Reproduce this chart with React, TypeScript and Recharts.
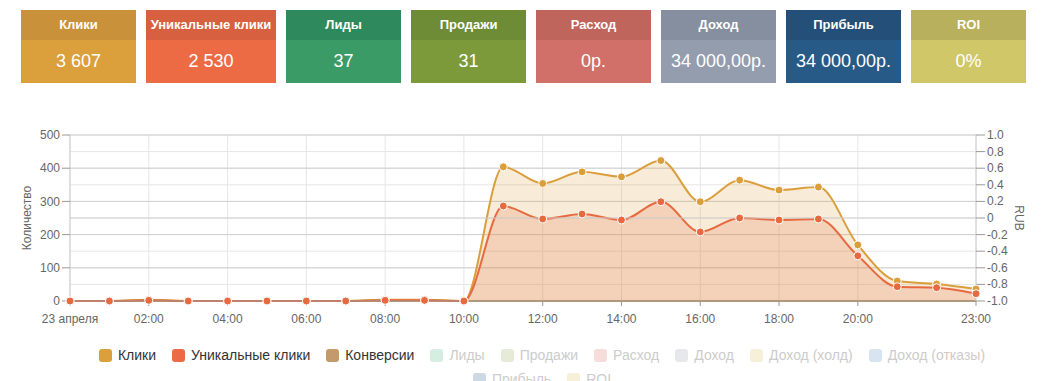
import React from "react";
import {
  AreaChart,
  Area,
  XAxis,
  YAxis,
  CartesianGrid,
  ReferenceLine,
} from "recharts";

// ---- data ----
const hours = [0, 1, 2, 3, 4, 5, 6, 7, 8, 9, 10, 11, 12, 13, 14, 15, 16, 17, 18, 19, 20, 21, 22, 23];
const clicks = [0, 0, 4, 0, 0, 0, 0, 0, 4, 4, 0, 404, 354, 389, 374, 423, 299, 364, 334, 343, 169, 60, 51, 36];
const uniqueClicks = [0, 0, 2, 0, 0, 0, 0, 0, 2, 2, 0, 286, 247, 262, 244, 299, 208, 250, 244, 247, 136, 43, 40, 22];
const conversions = [0, 0, 0, 0, 0, 0, 0, 0, 0, 0, 0, 0, 0, 0, 0, 0, 0, 0, 0, 0, 0, 0, 0, 0];
// ROI series is switched off in the legend (hidden), kept only to bind the RUB axis
const roi = [0, 0, 0, 0, 0, 0, 0, 0, 0, 0, 0, 0, 0, 0, 0, 0, 0, 0, 0, 0, 0, 0, 0, 0];

const xTicks = [0, 2, 4, 6, 8, 10, 12, 14, 16, 18, 20, 23];
const xTickLabels = ["23 апреля", "02:00", "04:00", "06:00", "08:00", "10:00", "12:00", "14:00", "16:00", "18:00", "20:00", "23:00"];
const leftTicks = [0, 100, 200, 300, 400, 500];
const rightTicks = [-1, -0.8, -0.6, -0.4, -0.2, 0, 0.2, 0.4, 0.6, 0.8, 1];
const rightTickLabels = ["-1.0", "-0.8", "-0.6", "-0.4", "-0.2", "0", "0.2", "0.4", "0.6", "0.8", "1.0"];

const cardTitles = ["Клики", "Уникальные клики", "Лиды", "Продажи", "Расход", "Доход", "Прибыль", "ROI"];
const cardValues = ["3 607", "2 530", "37", "31", "0р.", "34 000,00р.", "34 000,00р.", "0%"];
const cardHeadColors = ["#C8913A", "#D6603F", "#2E8A5C", "#6E8B35", "#C0655C", "#858FA0", "#244F78", "#B8B05C"];
const cardBodyColors = ["#DBA03B", "#EC6B45", "#3A9B67", "#7D9A3B", "#D07068", "#939DAE", "#285A88", "#D0C768"];
const cardWidths = [115, 130, 115, 115, 115, 115, 115, 115];

const legendNames = ["Клики", "Уникальные клики", "Конверсии", "Лиды", "Продажи", "Расход", "Доход", "Доход (холд)", "Доход (отказы)", "Прибыль", "ROI"];
const legendColors = ["#DBA03B", "#EC6B45", "#C49A6C", "#D6EEE1", "#E6EBD8", "#F6DCDA", "#E6E8EC", "#F6F0D8", "#D8E4F0", "#CCD8E4", "#F6F0D8"];
const legendActive = [true, true, true, false, false, false, false, false, false, false, false];

const rows = hours.map((h, i) => ({
  hour: h,
  clicks: clicks[i],
  unique: uniqueClicks[i],
  conv: conversions[i],
  roi: roi[i],
}));

const FONT = "'Liberation Sans', Arial, sans-serif";

function Cards() {
  return (
    <div style={{ position: "absolute", left: 21, top: 10, display: "flex", gap: 10 }}>
      {cardTitles.map((t, i) => (
        <div key={t} style={{ width: cardWidths[i], color: "#fff", textAlign: "center" }}>
          <div
            style={{
              height: 30,
              lineHeight: "30px",
              background: cardHeadColors[i],
              fontSize: 13,
              fontWeight: "bold",
            }}
          >
            {t}
          </div>
          <div
            style={{
              height: 43,
              lineHeight: "43px",
              background: cardBodyColors[i],
              fontSize: 18,
            }}
          >
            {cardValues[i]}
          </div>
        </div>
      ))}
    </div>
  );
}

function Legend() {
  return (
    <div
      style={{
        position: "absolute",
        left: 80,
        top: 343,
        width: 940,
        display: "flex",
        flexWrap: "wrap",
        justifyContent: "center",
      }}
    >
      {legendNames.map((n, i) => (
        <div
          key={n}
          style={{
            display: "flex",
            alignItems: "center",
            height: 24,
            marginRight: 16,
            fontSize: 14,
            color: legendActive[i] ? "#333" : "#cccccc",
          }}
        >
          <span
            style={{
              display: "inline-block",
              width: 13,
              height: 13,
              borderRadius: 3,
              background: legendColors[i],
              marginRight: 6,
            }}
          />
          {n}
        </div>
      ))}
    </div>
  );
}

const tickStyle = { fill: "#666", fontSize: 12, fontFamily: FONT };

function RightTick(props: any) {
  const { x, y, payload } = props;
  const idx = rightTicks.findIndex((t) => Math.abs(t - payload.value) < 1e-9);
  return (
    <text x={x} y={y} dy={4} textAnchor="start" fill="#666" fontSize={12} fontFamily={FONT}>
      {idx >= 0 ? rightTickLabels[idx] : String(payload.value)}
    </text>
  );
}

export default function App() {
  return (
    <div
      style={{
        position: "absolute",
        left: 0,
        top: 0,
        width: 1043,
        height: 381,
        overflow: "hidden",
        fontFamily: FONT,
        background: "#fff",
      }}
    >
      <Cards />
      <div style={{ position: "absolute", left: 0, top: 120 }}>
        <AreaChart
          width={1043}
          height={211}
          data={rows}
          margin={{ top: 15, right: 0, bottom: 0, left: 0 }}
        >
          <CartesianGrid yAxisId="right" stroke="#e6e6e6" vertical={true} horizontal={true} />
          <CartesianGrid yAxisId="left" stroke="#d0d0d0" vertical={false} horizontal={true} />
          <ReferenceLine yAxisId="right" y={0} stroke="#d0d0d0" />
          <XAxis
            dataKey="hour"
            type="number"
            domain={[0, 23]}
            ticks={xTicks}
            interval={0}
            tickFormatter={(v: number) => xTickLabels[xTicks.indexOf(v)]}
            tick={tickStyle}
            tickSize={5}
            tickMargin={8}
            height={30}
            stroke="#999"
          />
          <YAxis
            yAxisId="left"
            domain={[0, 500]}
            ticks={leftTicks}
            interval={0}
            width={70}
            tick={tickStyle}
            tickSize={8}
            tickMargin={2}
            stroke="#ccc"
            tickLine={{ stroke: "#999" }}
            label={{
              value: "Количество",
              angle: -90,
              position: "center",
              dx: -8,
              style: { fill: "#666", fontSize: 12, fontFamily: FONT },
            }}
          />
          <YAxis
            yAxisId="right"
            orientation="right"
            type="number"
            domain={[-1, 1]}
            ticks={rightTicks}
            interval={0}
            allowDecimals={true}
            width={67}
            tick={<RightTick />}
            tickSize={9}
            tickMargin={2}
            stroke="#ccc"
            tickLine={{ stroke: "#999" }}
            label={{
              value: "RUB",
              angle: 90,
              position: "center",
              dx: 10,
              style: { fill: "#666", fontSize: 12, fontFamily: FONT },
            }}
          />
          <Area
            yAxisId="right"
            type="monotone"
            dataKey="roi"
            stroke="none"
            fill="none"
            dot={false}
            activeDot={false}
            isAnimationActive={false}
          />
          <Area
            yAxisId="left"
            type="monotone"
            dataKey="conv"
            stroke="#C49A6C"
            strokeWidth={2}
            fill="#C49A6C"
            fillOpacity={0.2}
            dot={false}
            activeDot={false}
            isAnimationActive={false}
          />
          <Area
            yAxisId="left"
            type="monotone"
            dataKey="clicks"
            stroke="#DB9E3C"
            strokeWidth={2}
            fill="#DB9E3C"
            fillOpacity={0.2}
            dot={{ r: 4, fill: "#DB9E3C", fillOpacity: 1, stroke: "#fff", strokeWidth: 1 }}
            activeDot={false}
            isAnimationActive={false}
          />
          <Area
            yAxisId="left"
            type="monotone"
            dataKey="unique"
            stroke="#E7693F"
            strokeWidth={2}
            fill="#E7693F"
            fillOpacity={0.2}
            dot={{ r: 4, fill: "#E7693F", fillOpacity: 1, stroke: "#fff", strokeWidth: 1 }}
            activeDot={false}
            isAnimationActive={false}
          />
        </AreaChart>
      </div>
      <Legend />
    </div>
  );
}
